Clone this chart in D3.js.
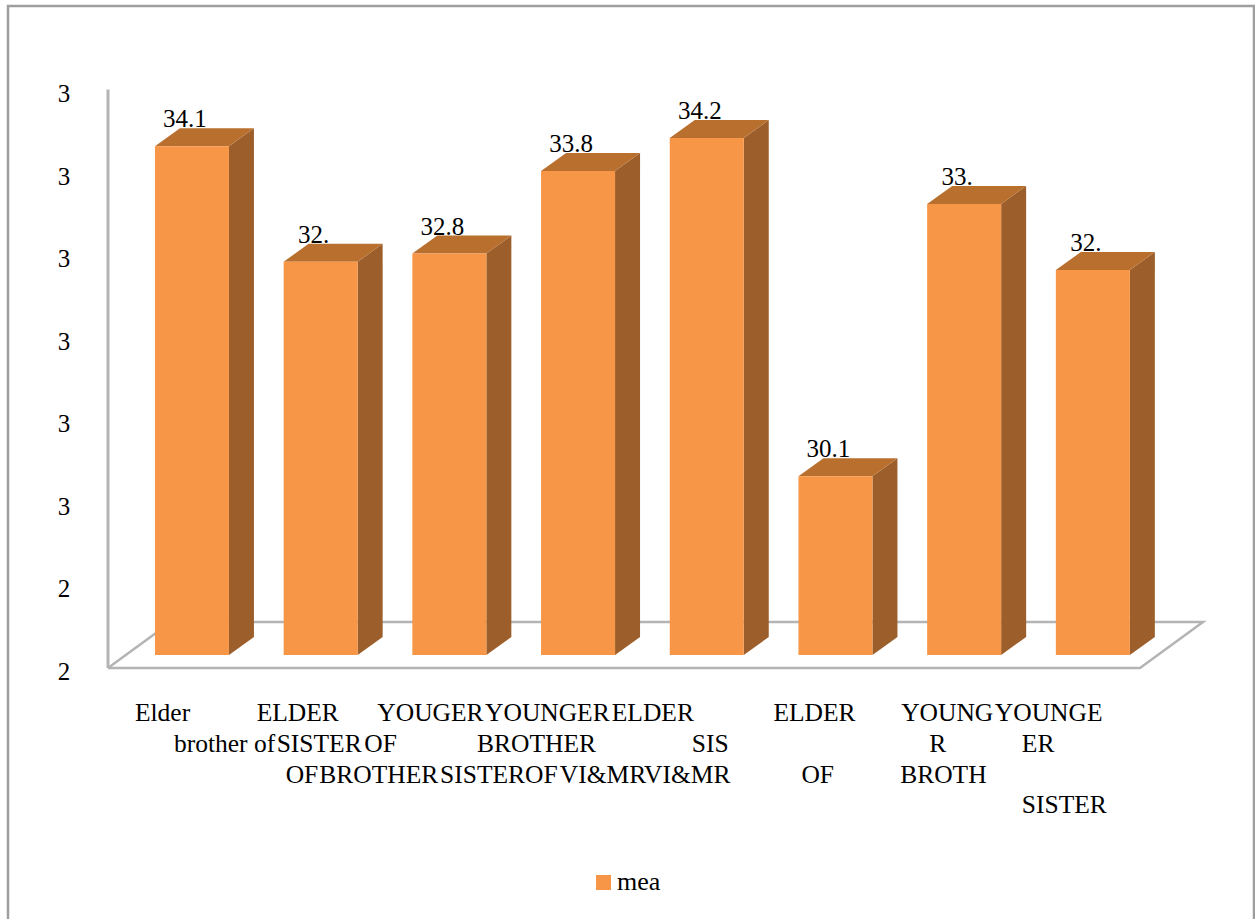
<!DOCTYPE html>
<html lang="en">
<head>
<meta charset="UTF-8">
<title>mea</title>
<script src="https://d3js.org/d3.v7.min.js"></script>
<style>
  body { margin: 0; background: #fff; }
  #chart text { font-family: "Liberation Serif", Tinos, "Noto Serif", "DejaVu Serif", FreeSerif, serif !important; }
</style>
</head>
<body>
<svg id="chart" width="1255" height="919"></svg>
<script>
// data
var values = [34.1, 32.7, 32.8, 33.8, 34.2, 30.1, 33.4, 32.6];
var valueLabels = ["34.1", "32.", "32.8", "33.8", "34.2", "30.1", "33.", "32."];
var tickLines = [
  ["Elder", "brother of"],
  ["ELDER", "SISTER", "OF"],
  ["YOUGER", "OF", "BROTHER"],
  ["YOUNGER", "BROTHER", "SISTEROF"],
  ["ELDER", "SIS", "VI&MRVI&MR"],
  ["ELDER", "", "OF"],
  ["YOUNG", "R", "BROTH"],
  ["YOUNGE", "ER", "", "SISTER"]
];
var categories = tickLines.map(function(l, i){ return (i + 1) + " " + l.filter(Boolean).join(" "); });
var yTicks = [28, 29, 30, 31, 32, 33, 34, 35];
var yTickLabels = ["2", "2", "3", "3", "3", "3", "3", "3"];
var seriesName = "mea";

// layout of the wrapped category labels (x offset from bar left, per line)
var tickDx = [[-20, 19], [-27, -7, 2], [-35, -48, -93], [-56, -64, -101],
              [-58, 22, -110], [-25, 0, 3], [-26, 2, -27], [-61, -34, 0, -34]];

var front = "#f79646", topC = "#b9702f", sideC = "#9c5e2a", grid = "#b4b4b4";
var depthX = 25, depthY = -18;       // bar depth
var floorDX = 63, floorDY = -46;     // floor depth

var svg = d3.select("#chart");

// outer frame
svg.append("rect")
  .attr("x", 8).attr("y", 6).attr("width", 1246).attr("height", 1000)
  .attr("fill", "none").attr("stroke", "#9e9e9e").attr("stroke-width", 2.5);

var y = d3.scaleLinear().domain([28, 35]).range([671, 93.5]);
var x = d3.scaleBand().domain(categories).range([127.6, 1157.2])
  .paddingInner(0.425).paddingOuter(0.2125);

var floorY = 668, axisX = 108, floorR = 1140;
var barBase = floorY - 13;
var lift = 21.5;

// floor
var floor = svg.append("g").attr("fill", "none").attr("stroke", grid).attr("stroke-width", 2.5);
floor.append("path").attr("d", d3.line()([
  [axisX, floorY], [floorR, floorY], [floorR + floorDX, floorY + floorDY],
  [axisX + floorDX, floorY + floorDY], [axisX, floorY]
]));
// vertical axis line
floor.append("line").attr("x1", axisX).attr("x2", axisX)
  .attr("y1", y(35) - 4).attr("y2", floorY).attr("stroke-width", 3);

// y tick labels
var yAxis = d3.axisLeft(y).tickValues(yTicks).tickSize(0)
  .tickFormat(function(d, i){ return yTickLabels[i]; });
var ya = svg.append("g").attr("transform", "translate(64,0)").call(yAxis)
  .attr("font-size", 25);
ya.select(".domain").remove();
ya.selectAll("text").attr("x", 0).attr("text-anchor", "middle").attr("fill", "#000");

// bars
var bars = svg.append("g").selectAll("g").data(values).enter().append("g");
bars.each(function(v, i){
  var g = d3.select(this);
  var x0 = x(categories[i]), x1 = x0 + x.bandwidth();
  var t = y(v) - lift, b = barBase;
  g.append("path").attr("fill", sideC).attr("d", d3.line()([
    [x1, t], [x1 + depthX, t + depthY], [x1 + depthX, b + depthY], [x1, b]
  ]) + "Z");
  g.append("path").attr("fill", topC).attr("d", d3.line()([
    [x0, t], [x0 + depthX, t + depthY], [x1 + depthX, t + depthY], [x1, t]
  ]) + "Z");
  g.append("rect").attr("fill", front)
    .attr("x", x0).attr("y", t).attr("width", x1 - x0).attr("height", b - t);
  g.append("text")
    .attr("x", x0 + x.bandwidth() / 2 - 7).attr("y", t - 19)
    .attr("text-anchor", "middle").attr("font-size", 25)
    .text(valueLabels[i]);
});

// category labels
var rowY = [721, 752, 783, 813];
var lab = svg.append("g").attr("font-size", 25.5);
tickLines.forEach(function(lines, i){
  var x0 = x(categories[i]);
  lines.forEach(function(s, r){
    if (!s) return;
    lab.append("text").attr("x", x0 + tickDx[i][r]).attr("y", rowY[r]).text(s);
  });
});

// legend
var lg = svg.append("g").attr("transform", "translate(596,875)");
lg.append("rect").attr("width", 15).attr("height", 15).attr("fill", front);
lg.append("text").attr("x", 21).attr("y", 15).attr("font-size", 26).text(seriesName);
</script>
</body>
</html>
